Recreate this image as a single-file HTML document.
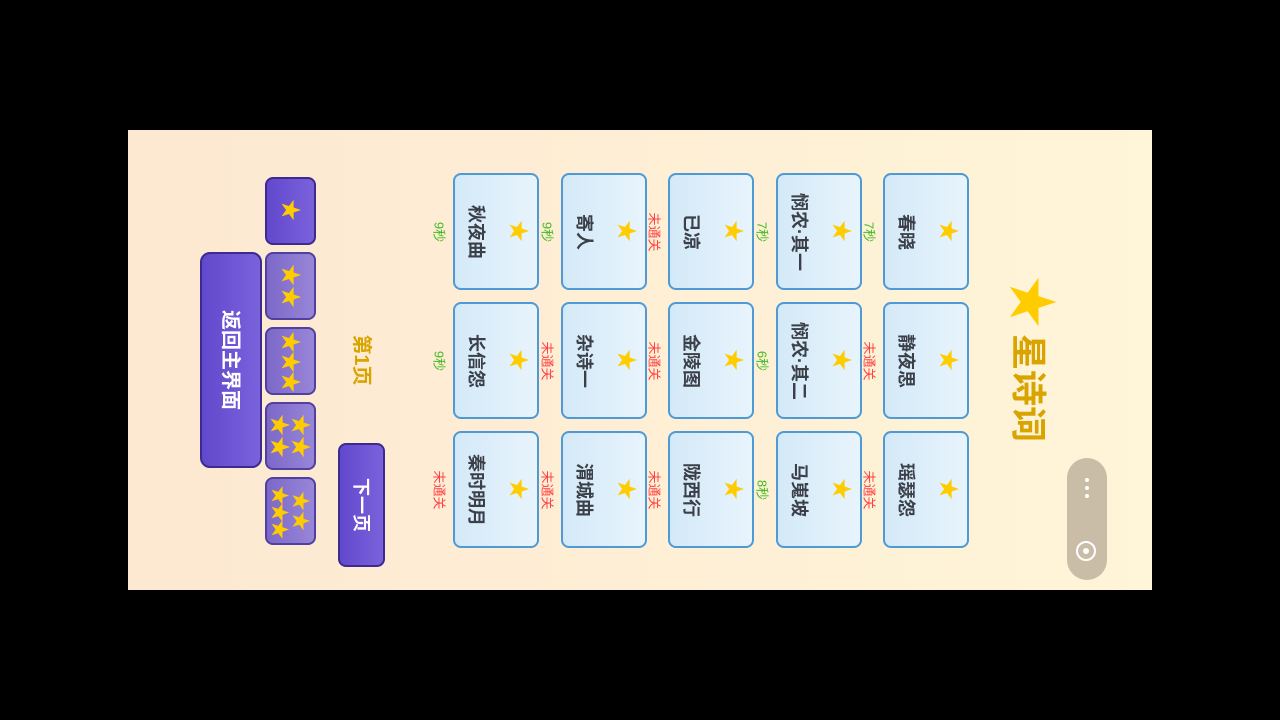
<!DOCTYPE html>
<html><head><meta charset="utf-8"><style>
body{margin:0;width:1280px;height:720px;background:#000;position:relative;overflow:hidden;font-family:"Liberation Sans","Noto Sans CJK SC",sans-serif}
#pg{position:absolute;left:128px;top:130px;width:1024px;height:460px;background:linear-gradient(90deg,#fde8d2,#fff5d8)}
.a{position:absolute}
.r{position:absolute;transform:translate(-50%,-50%) rotate(90deg);white-space:nowrap;line-height:1}
.card{position:absolute;width:82px;height:113px;border:2px solid #4d9ad6;border-radius:8px;background:linear-gradient(90deg,#d4e9f8,#e8f4fc)}
.nm{font-size:18px;font-weight:bold;color:#3a3f48}
.st{color:#ffcc00;font-size:22px}
.g{color:#44bb22;font-size:13px}
.rd{color:#ff4040;font-size:13px}
.pb{position:absolute;border:2px solid #3d2a8f;border-radius:8px;background:linear-gradient(90deg,#6248cc,#7a62dc);}
.pl{background:linear-gradient(90deg,#7c68c8,#9886d8);border-color:#5040a0}
</style></head><body>
<div id="pg"></div>
<div id="c"></div>
<div class="r" style="left:1030px;top:302px;font-size:52px;color:#ffcc00">★</div>
<div class="r" style="left:1028px;top:388px;font-size:36px;font-weight:bold;color:#d9a400">星诗词</div>
<div class="a" style="left:1067px;top:458px;width:40px;height:122px;border-radius:20px;background:#c9bda8"></div>
<div class="a" style="left:1085px;top:478px;width:4px;height:4px;border-radius:2px;background:#fff;box-shadow:0 8px 0 #fff,0 16px 0 #fff"></div>
<div class="a" style="left:1076px;top:541px;width:16px;height:16px;border:2px solid #fff;border-radius:50%"></div>
<div class="a" style="left:1083px;top:548px;width:6px;height:6px;border-radius:50%;background:#fff"></div>
<div class="pb" style="left:200px;top:252px;width:58px;height:212px;border-radius:10px"></div>
<div class="r" style="left:230px;top:360px;font-size:20px;font-weight:bold;color:#fff">返回主界面</div>
<div class="pb" style="left:265px;top:177px;width:47px;height:64px"></div>
<div class="r st" style="left:290px;top:210px;font-size:22px">★</div>
<div class="pb pl" style="left:265px;top:252px;width:47px;height:64px"></div>
<div class="r st" style="left:290px;top:286px;font-size:22px">★★</div>
<div class="pb pl" style="left:265px;top:327px;width:47px;height:64px"></div>
<div class="r st" style="left:290px;top:361px;font-size:22px;letter-spacing:-2px">★★★</div>
<div class="pb pl" style="left:265px;top:402px;width:47px;height:64px"></div>
<div class="r st" style="left:279px;top:436px;font-size:22px">★★</div>
<div class="r st" style="left:300px;top:436px;font-size:22px">★★</div>
<div class="pb pl" style="left:265px;top:477px;width:47px;height:64px"></div>
<div class="r st" style="left:279px;top:511px;font-size:20px;letter-spacing:-3px">★★★</div>
<div class="r st" style="left:300px;top:511px;font-size:20px">★★</div>
<div class="r" style="left:361px;top:360px;font-size:20px;font-weight:bold;color:#d9a400">第1页</div>
<div class="pb" style="left:338px;top:443px;width:43px;height:120px;border-radius:8px"></div>
<div class="r" style="left:361px;top:505px;font-size:18px;font-weight:bold;color:#fff">下一页</div>
<script>
var xs=[453,561,668,776,883],ys=[173,302,431];
var d=[[["秋夜曲","9秒"],["寄人","9秒"],["已凉","未通关"],["悯农·其一","7秒"],["春晓","7秒"]],
[["长信怨","9秒"],["杂诗一","未通关"],["金陵图","未通关"],["悯农·其二","6秒"],["静夜思","未通关"]],
[["秦时明月","未通关"],["渭城曲","未通关"],["陇西行","未通关"],["马嵬坡","8秒"],["瑶瑟怨","未通关"]]];
var h="";
for(var r=0;r<3;r++)for(var c=0;c<5;c++){var x=xs[c],y=ys[r],n=d[r][c];
h+='<div class="card" style="left:'+x+'px;top:'+y+'px"></div>';
h+='<div class="r nm" style="left:'+(x+23)+'px;top:'+(y+59)+'px">'+n[0]+'</div>';
h+='<div class="r st" style="left:'+(x+65)+'px;top:'+(y+58)+'px">★</div>';
var cl=n[1]=="未通关"?"rd":"g";
h+='<div class="r '+cl+'" style="left:'+(x-14)+'px;top:'+(y+59)+'px">'+n[1]+'</div>';}
document.getElementById("c").innerHTML=h;
</script>
</body></html>
